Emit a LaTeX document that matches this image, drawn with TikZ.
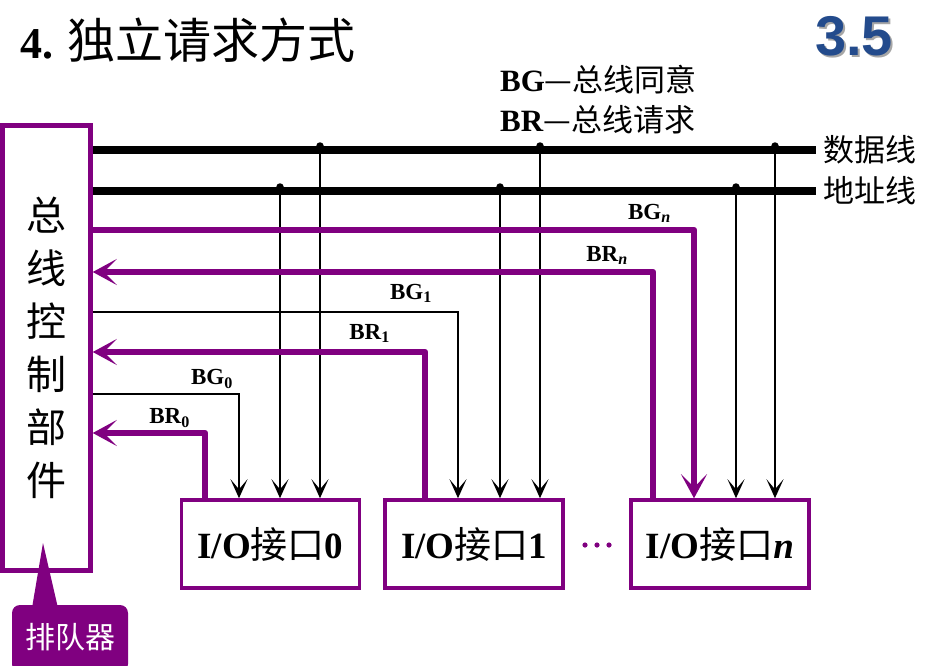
\documentclass[tikz,border=0pt]{standalone}
\usepackage{fontspec}
\setmainfont{Liberation Serif}
\newfontfamily\cjk{Noto Sans CJK SC}
\newfontfamily\arialbd{Liberation Sans}
\usetikzlibrary{arrows.meta}
\definecolor{vio}{RGB}{128,0,128}
\definecolor{numblue}{RGB}{35,75,140}
\begin{document}
\begin{tikzpicture}[x=1pt,y=-1pt,
  bus/.style={line width=8pt},
  sig/.style={line width=2.5pt},
  psig/.style={line width=6.5pt, draw=vio, line join=round},
  barr/.style={-{Stealth[length=19pt,width=17pt,inset=10pt]}},
  parr/.style={-{Stealth[length=24pt,width=26pt,inset=13pt,fill=vio]}},
  jdot/.style={circle,fill=black,inner sep=0pt,minimum size=7.5pt},
  iobox/.style={draw=vio,line width=3.5pt,minimum width=178pt,minimum height=88pt,inner sep=0pt,
    font=\fontsize{37}{37}\selectfont},
  lbl/.style={font=\fontsize{23}{23}\selectfont\bfseries, inner sep=0pt, anchor=south east},
  buslbl/.style={font=\cjk\fontsize{31}{31}\selectfont, inner sep=0pt, anchor=west},
  legend/.style={font=\fontsize{31}{31}\selectfont, inner sep=0pt, anchor=base west},
]
\useasboundingbox (0,0) rectangle (942,665);

% title and section number
\node[anchor=base west, inner sep=0pt] (title) at (20,58)
  {\fontsize{44}{44}\selectfont\textbf{4.} {\cjk\fontsize{48}{48}\selectfont 独立请求方式}};
\node[anchor=base west, inner sep=0pt, text=gray!70, font=\arialbd\bfseries\fontsize{56}{56}\selectfont] (secsh) at (817,57) {3.5};
\node[anchor=base west, inner sep=0pt, text=numblue, font=\arialbd\bfseries\fontsize{56}{56}\selectfont] (sec) at (815,55) {3.5};

% legend
\node[legend] (leg1) at (500,91) {\textbf{BG}{\cjk —总线同意}};
\node[legend] (leg2) at (500,131) {\textbf{BR}{\cjk —总线请求}};

% controller
\node[draw=vio, line width=4.5pt, minimum width=88pt, minimum height=445pt, inner sep=0pt,
  align=center, font=\cjk\fontsize{40}{53}\selectfont] (ctl) at (46.5,348) {总\\线\\控\\制\\部\\件};

% I/O boxes
\node[iobox] (io0) at (270.5,544) {\textbf{I/O}{\cjk 接口}\textbf{0}};
\node[iobox] (io1) at (474,544) {\textbf{I/O}{\cjk 接口}\textbf{1}};
\node[iobox] (ion) at (720,544) {\textbf{I/O}{\cjk 接口}\textbf{\textit{n}}};
\fill[vio] (585,545) circle (2.6pt) (597,545) circle (2.6pt) (609,545) circle (2.6pt);

% buses
\coordinate (dR) at (816,150);
\coordinate (aR) at (816,191);
\draw[bus] (ctl.east |- dR) -- (dR);
\draw[bus] (ctl.east |- aR) -- (aR);
\node[buslbl] (dl) at (823,150) {数据线};
\node[buslbl] (al) at (823,191) {地址线};

% taps from buses
\node[jdot] (ta0) at (280,187) {};
\node[jdot] (td0) at (320,146) {};
\node[jdot] (ta1) at (500,187) {};
\node[jdot] (td1) at (540,146) {};
\node[jdot] (tan) at (736,187) {};
\node[jdot] (tdn) at (775,146) {};
\draw[sig,barr] (ta0.center) -- (ta0 |- io0.north);
\draw[sig,barr] (td0.center) -- (td0 |- io0.north);
\draw[sig,barr] (ta1.center) -- (ta1 |- io1.north);
\draw[sig,barr] (td1.center) -- (td1 |- io1.north);
\draw[sig,barr] (tan.center) -- (tan |- ion.north);
\draw[sig,barr] (tdn.center) -- (tdn |- ion.north);

% grant / request lines
\coordinate (bgn) at (694,230);
\coordinate (brn) at (653,272);
\coordinate (bg1) at (458,312);
\coordinate (br1) at (425,352);
\coordinate (bg0) at (239,394);
\coordinate (br0) at (205,433);

\draw[psig,parr] (ctl.east |- bgn) -- (bgn) -- (bgn |- ion.north);
\draw[psig,parr] (brn |- ion.north) -- (brn) -- (ctl.east |- brn);
\draw[sig,barr] (ctl.east |- bg1) -- (bg1) -- (bg1 |- io1.north);
\draw[psig,parr] (br1 |- io1.north) -- (br1) -- (ctl.east |- br1);
\draw[sig,barr] (ctl.east |- bg0) -- (bg0) -- (bg0 |- io0.north);
\draw[psig,parr] (br0 |- io0.north) -- (br0) -- (ctl.east |- br0);

\node[lbl] (lbgn) at (671,223) {BG\textsubscript{\textit{n}}};
\node[lbl] (lbrn) at (628,265) {BR\textsubscript{\textit{n}}};
\node[lbl] (lbg1) at (432,303) {BG\textsubscript{1}};
\node[lbl] (lbr1) at (390,343) {BR\textsubscript{1}};
\node[lbl] (lbg0) at (233,389) {BG\textsubscript{0}};
\node[lbl] (lbr0) at (190,428) {BR\textsubscript{0}};

% queue callout
\fill[vio, rounded corners=8pt] (12,605) rectangle (128,672);
\fill[vio] (32,608) -- (43,543) -- (58,608) -- cycle;
\node[text=white, inner sep=0pt, font=\cjk\fontsize{30}{30}\selectfont] (queue) at (70,637) {排队器};
\end{tikzpicture}
\end{document}
